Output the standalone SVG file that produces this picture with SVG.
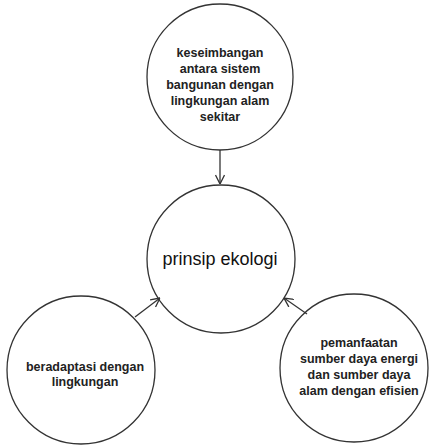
<svg xmlns="http://www.w3.org/2000/svg" width="429" height="445" viewBox="0 0 429 445">
<defs>
<style>
.c{fill:#fff;stroke:#333;stroke-width:1.3}
.t{font-family:"Liberation Sans",Arial,sans-serif;font-size:12.5px;font-weight:bold;fill:#222;text-anchor:middle}
.m{font-family:"Liberation Sans",Arial,sans-serif;font-size:18px;fill:#111;text-anchor:middle}
.e{fill:none;stroke:#333;stroke-width:1.3}
</style>
<marker id="ah" viewBox="0 0 10 10" refX="10" refY="5" markerWidth="10" markerHeight="10" markerUnits="userSpaceOnUse" orient="auto">
<path d="M1,0.5 L10,5 L1,9.5" fill="none" stroke="#333" stroke-width="1.3"/>
</marker>
</defs>
<rect width="429" height="445" fill="#fff"/>
<g id="n-top">
<circle class="c" cx="220" cy="77" r="73"/>
<text class="t" x="220" y="57">keseimbangan</text>
<text class="t" x="220" y="73">antara sistem</text>
<text class="t" x="220" y="89">bangunan dengan</text>
<text class="t" x="220" y="105">lingkungan alam</text>
<text class="t" x="220" y="121">sekitar</text>
</g>
<g id="n-center">
<circle class="c" cx="221" cy="259" r="74"/>
<text class="m" x="220" y="265">prinsip ekologi</text>
</g>
<g id="n-left">
<circle class="c" cx="81" cy="370" r="74"/>
<text class="t" x="85" y="371">beradaptasi dengan</text>
<text class="t" x="85" y="386">lingkungan</text>
</g>
<g id="n-right">
<circle class="c" cx="354" cy="368" r="74"/>
<text class="t" x="359" y="347">pemanfaatan</text>
<text class="t" x="359" y="363">sumber daya energi</text>
<text class="t" x="359" y="379">dan sumber daya</text>
<text class="t" x="359" y="395">alam dengan efisien</text>
</g>
<g id="edges">
<line class="e" x1="220" y1="150" x2="220" y2="184" marker-end="url(#ah)"/>
<line class="e" x1="135" y1="317" x2="160" y2="298" marker-end="url(#ah)"/>
<line class="e" x1="307" y1="314" x2="284" y2="298" marker-end="url(#ah)"/>
</g>
</svg>
